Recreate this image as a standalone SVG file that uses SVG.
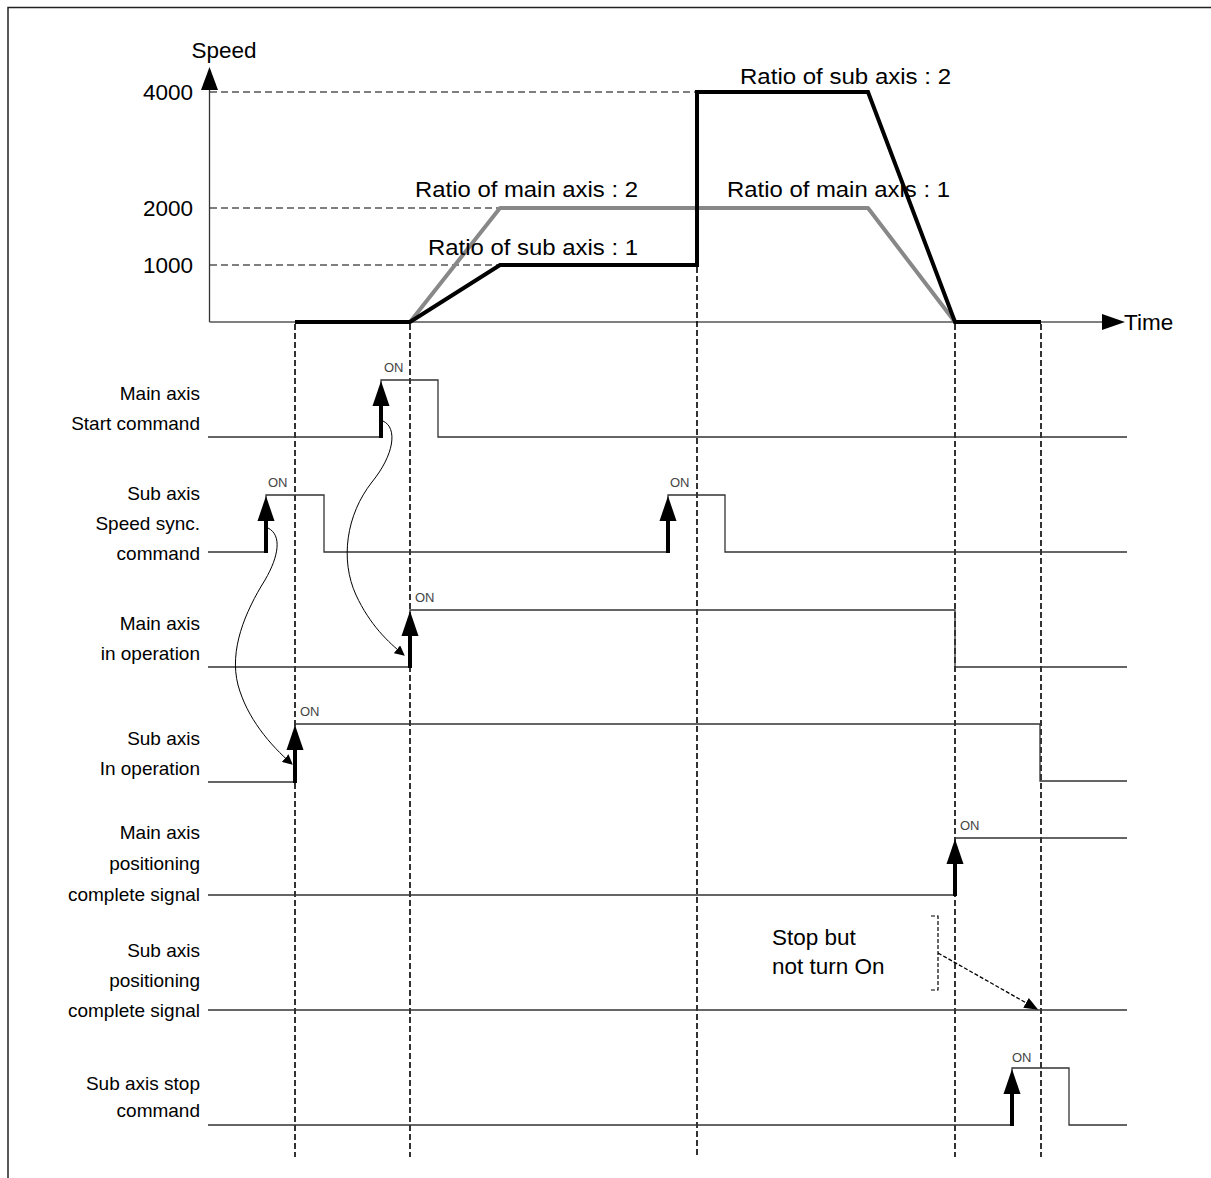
<svg xmlns="http://www.w3.org/2000/svg" width="1211" height="1178" viewBox="0 0 1211 1178">
<defs>
<marker id="curveHead" viewBox="0 0 10 10" refX="9" refY="5" markerWidth="10" markerHeight="10" markerUnits="userSpaceOnUse" orient="auto"><path d="M0,0 L10,5 L0,10 z" fill="#000"/></marker>
<marker id="dashHead" viewBox="0 0 10 10" refX="9" refY="5" markerWidth="14" markerHeight="14" markerUnits="userSpaceOnUse" orient="auto"><path d="M0,1 L10,5 L0,9 z" fill="#000"/></marker>
</defs>
<style>
text{font-family:"Liberation Sans",Arial,sans-serif;fill:#000}
.big{font-size:22.5px}
.lab{font-size:19px;text-anchor:end}
.on{font-size:13px;fill:#444}
.sig{fill:none;stroke:#333;stroke-width:1.3}
.vdash{fill:none;stroke:#000;stroke-width:1.6;stroke-dasharray:6,3}
.hdash{fill:none;stroke:#000;stroke-width:1.2;stroke-dasharray:7,4}
.up{fill:#000}
.shaft{stroke:#000;stroke-width:4}
.curve{fill:none;stroke:#000;stroke-width:1}
</style>
<rect width="1211" height="1178" fill="#fff"/>
<path d="M8,1178 L8,7.5 L1211,7.5" fill="none" stroke="#222" stroke-width="1.5"/>

<g id="axes">
<line x1="209.5" y1="88" x2="209.5" y2="322" stroke="#333" stroke-width="1.3"/>
<path d="M209.5,67 L218,90 L201,90 z" fill="#000"/>
<line x1="209.5" y1="322" x2="1104" y2="322" stroke="#555" stroke-width="1.3"/>
<path d="M1125,322 L1102,314 L1102,330 z" fill="#000"/>
<text class="big" x="224" y="58" text-anchor="middle">Speed</text>
<text class="big" x="1124" y="330">Time</text>
<text class="big" x="193" y="100" text-anchor="end">4000</text>
<text class="big" x="193" y="216" text-anchor="end">2000</text>
<text class="big" x="193" y="273" text-anchor="end">1000</text>
<line class="hdash" x1="210" y1="92" x2="697" y2="92"/>
<line class="hdash" x1="210" y1="208" x2="498" y2="208"/>
<line class="hdash" x1="210" y1="265" x2="498" y2="265"/>
</g>

<g id="speed-profiles">
<polyline points="410,322 500,208 868,208 955,322" fill="none" stroke="#888" stroke-width="4" stroke-linejoin="round"/>
<polyline points="295,322 410,322 500,265 697,265 697,92 868,92 955,322 1041,322" fill="none" stroke="#000" stroke-width="4" stroke-linejoin="miter"/>
<text class="big" x="740" y="84" textLength="211" lengthAdjust="spacingAndGlyphs">Ratio of sub axis : 2</text>
<text class="big" x="727" y="197" textLength="223" lengthAdjust="spacingAndGlyphs">Ratio of main axis : 1</text>
<text class="big" x="415" y="197" textLength="223" lengthAdjust="spacingAndGlyphs">Ratio of main axis : 2</text>
<text class="big" x="428" y="255" textLength="210" lengthAdjust="spacingAndGlyphs">Ratio of sub axis : 1</text>
</g>

<g id="time-markers">
<line class="vdash" x1="295" y1="324" x2="295" y2="1157"/>
<line class="vdash" x1="410" y1="324" x2="410" y2="1157"/>
<line class="vdash" x1="697" y1="267" x2="697" y2="1157"/>
<line class="vdash" x1="955" y1="324" x2="955" y2="1157"/>
<line class="vdash" x1="1041" y1="324" x2="1041" y2="1157"/>
</g>

<g id="main-start-command">
<text class="lab" x="200" y="400">Main axis</text>
<text class="lab" x="200" y="430">Start command</text>
<polyline class="sig" points="208,437 381,437 381,380 438,380 438,437 1127,437"/>
<line class="shaft" x1="381" y1="438" x2="381" y2="404"/>
<path class="up" d="M381,381 L389.5,406 L372.5,406 z"/>
<text class="on" x="384" y="372">ON</text>
</g>

<g id="sub-speed-sync-command">
<text class="lab" x="200" y="500">Sub axis</text>
<text class="lab" x="200" y="530">Speed sync.</text>
<text class="lab" x="200" y="560">command</text>
<polyline class="sig" points="208,552 266,552 266,495 324,495 324,552 668,552 668,495 725,495 725,552 1127,552"/>
<line class="shaft" x1="266" y1="553" x2="266" y2="518"/>
<path class="up" d="M266,496 L274.5,521 L257.5,521 z"/>
<line class="shaft" x1="668" y1="553" x2="668" y2="518"/>
<path class="up" d="M668,496 L676.5,521 L659.5,521 z"/>
<text class="on" x="268" y="487">ON</text>
<text class="on" x="670" y="487">ON</text>
</g>

<g id="main-in-operation">
<text class="lab" x="200" y="630">Main axis</text>
<text class="lab" x="200" y="660">in operation</text>
<polyline class="sig" points="208,667 410,667 410,610 955,610 955,667 1127,667"/>
<line class="shaft" x1="410" y1="668" x2="410" y2="633"/>
<path class="up" d="M410,611 L418.5,636 L401.5,636 z"/>
<text class="on" x="415" y="602">ON</text>
</g>

<g id="sub-in-operation">
<text class="lab" x="200" y="745">Sub axis</text>
<text class="lab" x="200" y="775">In operation</text>
<polyline class="sig" points="208,782 295,782 295,724 1040,724 1040,781 1127,781"/>
<line class="shaft" x1="295" y1="783" x2="295" y2="747"/>
<path class="up" d="M295,725 L303.5,750 L286.5,750 z"/>
<text class="on" x="300" y="716">ON</text>
</g>

<g id="main-positioning-complete">
<text class="lab" x="200" y="839">Main axis</text>
<text class="lab" x="200" y="870">positioning</text>
<text class="lab" x="200" y="901">complete signal</text>
<polyline class="sig" points="208,895 955,895 955,838 1127,838"/>
<line class="shaft" x1="955" y1="896" x2="955" y2="861"/>
<path class="up" d="M955,839 L963.5,864 L946.5,864 z"/>
<text class="on" x="960" y="830">ON</text>
</g>

<g id="sub-positioning-complete">
<text class="lab" x="200" y="957">Sub axis</text>
<text class="lab" x="200" y="987">positioning</text>
<text class="lab" x="200" y="1017">complete signal</text>
<line class="sig" x1="208" y1="1010" x2="1127" y2="1010"/>
</g>

<g id="sub-stop-command">
<text class="lab" x="200" y="1090">Sub axis stop</text>
<text class="lab" x="200" y="1117">command</text>
<polyline class="sig" points="208,1125 1012,1125 1012,1068 1069,1068 1069,1125 1127,1125"/>
<line class="shaft" x1="1012" y1="1126" x2="1012" y2="1091"/>
<path class="up" d="M1012,1069 L1020.5,1094 L1003.5,1094 z"/>
<text class="on" x="1012" y="1062">ON</text>
</g>

<g id="note-stop">
<text class="big" x="772" y="945">Stop but</text>
<text class="big" x="772" y="974">not turn On</text>
<polyline points="931,916 938,916 938,990 931,990" fill="none" stroke="#000" stroke-width="1.2" stroke-dasharray="4,2"/>
</g>

<g id="connectors">
<path class="curve" d="M383,421 C398,428 394,455 372,482 C346,515 340,560 356,595 C370,625 388,642 404,655" marker-end="url(#curveHead)"/>
<path class="curve" d="M268,528 C282,535 279,556 265,580 C245,612 229,650 238,685 C247,718 270,745 292,764" marker-end="url(#curveHead)"/>
<line x1="938" y1="953" x2="1037" y2="1009" stroke="#000" stroke-width="1.3" stroke-dasharray="4,2" marker-end="url(#dashHead)"/>
</g>
</svg>
